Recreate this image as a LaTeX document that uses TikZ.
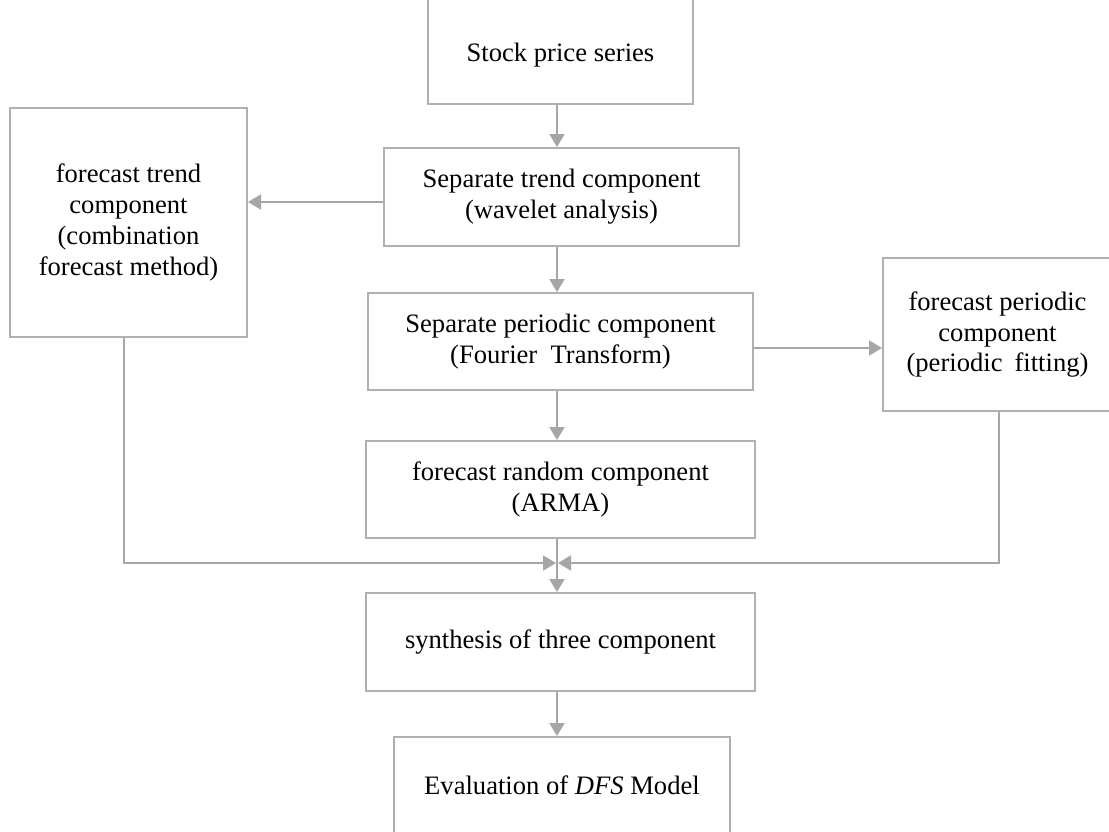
\documentclass[tikz,border=0pt]{standalone}
\usepackage{fontspec}
\setmainfont{Liberation Serif}
\usetikzlibrary{arrows.meta}
\definecolor{linegray}{HTML}{A6A6A6}
\definecolor{boxgray}{HTML}{B0B0B0}
\begin{document}
\begin{tikzpicture}[x=0.5pt,y=-0.5pt,
  box/.style={draw=boxgray,line width=1pt,rectangle,inner sep=0pt,align=center,
    font=\fontsize{13.3}{15.4}\selectfont,text=black},
  arr/.style={draw=linegray,line width=1pt,-{Triangle[length=6.5pt,width=7.5pt]}},
  ln/.style={draw=linegray,line width=1pt}]
\useasboundingbox (0,0) rectangle (1109,831);
\clip (0,0) rectangle (1109,831);
\fill[white] (0,0) rectangle (1109,831);

\node[box,minimum width=132.5pt,minimum height=57pt,
  label={[font=\fontsize{13.3}{15.4}\selectfont,text=black,yshift=-4pt]center:Stock price series}] (stock) at (560.5,47) {};
\node[box,minimum width=177.5pt,minimum height=49pt] (septrend) at (561.5,197) {Separate trend component\\(wavelet analysis)};
\node[box,minimum width=118.5pt,minimum height=114.5pt] (ftrend) at (128.5,222.5) {forecast trend\\component\\(combination\\forecast method)};
\node[box,minimum width=192.5pt,minimum height=48.5pt] (sepper) at (560.5,341.5) {Separate periodic component\\(Fourier\hspace{0.5em}Transform)};
\node[box,minimum width=114.5pt,minimum height=76.5pt] (fper) at (997.5,334.5) {forecast periodic\\component\\(periodic\hspace{0.45em}fitting)};
\node[box,minimum width=194.5pt,minimum height=48.5pt] (arma) at (560.5,489.5) {forecast random component\\(ARMA)};
\node[box,minimum width=194.5pt,minimum height=49pt] (synth) at (560.5,642) {synthesis of three component};
\node[box,minimum width=168pt,minimum height=48pt] (eval) at (562,785) {Evaluation of \textit{DFS} Model};

\coordinate (cx) at (557,0);
\coordinate (j) at (557,563);
\coordinate (jl) at (556,563);
\coordinate (jr) at (558,563);
\coordinate (lx) at (124,0);
\coordinate (rx) at (999,0);
\coordinate (ty) at (0,202);
\coordinate (py) at (0,348);

\draw[arr] (stock.south -| cx) -- (septrend.north -| cx);
\draw[arr] (septrend.west |- ty) -- (ftrend.east |- ty);
\draw[arr] (septrend.south -| cx) -- (sepper.north -| cx);
\draw[arr] (sepper.east |- py) -- (fper.west |- py);
\draw[arr] (sepper.south -| cx) -- (arma.north -| cx);
\draw[arr] (arma.south -| cx) -- (synth.north -| cx);
\draw[arr] (ftrend.south -| lx) |- (jl);
\draw[arr] (fper.south -| rx) |- (jr);
\draw[arr] (synth.south -| cx) -- (eval.north -| cx);
\end{tikzpicture}
\end{document}
